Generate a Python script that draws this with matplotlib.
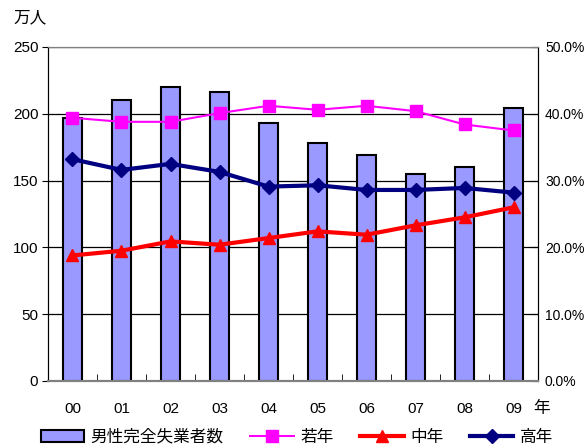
import numpy as np
import matplotlib
matplotlib.use('Agg')
import matplotlib.pyplot as plt
from matplotlib.ticker import FuncFormatter, FixedLocator

plt.rcParams['font.family'] = ['Liberation Sans', 'Noto Sans CJK JP']

# -----------------------------
# data
# -----------------------------
years = ['00', '01', '02', '03', '04', '05', '06', '07', '08', '09']
unemployed_men = [197, 210, 220, 216, 193, 178, 169, 155, 160, 204]   # 万人
young = [39.4, 38.8, 38.8, 40.1, 41.2, 40.6, 41.2, 40.4, 38.4, 37.5]  # %
middle = [18.8, 19.5, 20.9, 20.4, 21.4, 22.4, 21.9, 23.3, 24.5, 26.0]
old = [33.2, 31.6, 32.5, 31.3, 29.1, 29.3, 28.6, 28.6, 28.9, 28.2]

x = np.arange(len(years))

fig = plt.figure(figsize=(5.88, 4.45), dpi=100)
ax = fig.add_axes([48/588, 64/445, 490/588, 334/445])
ax2 = ax.twinx()

# bars
bars = ax.bar(x, unemployed_men, width=0.4, color='#9999FF',
              edgecolor='black', linewidth=1.5, zorder=3,
              label='男性完全失業者数')
ax.set_xlim(-0.5, len(years) - 0.5)
ax.set_ylim(0, 250)
ax.set_yticks([0, 50, 100, 150, 200, 250])
ax.yaxis.grid(True, color='black', linewidth=0.9, zorder=0)
ax.set_axisbelow(True)
ax.set_xticks(x)
ax.set_xticklabels(years, fontsize=11)
ax.tick_params(axis='x', length=0, pad=15)
ax.xaxis.set_minor_locator(FixedLocator(np.arange(0.5, len(years) - 1, 1.0)))
ax.tick_params(axis='x', which='minor', direction='in', length=5, color='black')
ax.tick_params(axis='y', labelsize=11, length=4, pad=3)

# lines (right axis, percent)
ax2.set_ylim(0, 50)
ax2.set_yticks([0, 10, 20, 30, 40, 50])
ax2.yaxis.set_major_formatter(FuncFormatter(lambda v, p: f'{v:.1f}%'))
ax2.tick_params(axis='y', labelsize=10, direction='in', length=5, pad=5)
l1, = ax2.plot(x, young, color='#FF00FF', linewidth=1.5, marker='s',
               markersize=9, label='若年', zorder=4)
l2, = ax2.plot(x, middle, color='#FF0000', linewidth=3, marker='^',
               markersize=9, label='中年', zorder=4)
l3, = ax2.plot(x, old, color='#000080', linewidth=3, marker='D',
               markersize=7, label='高年', zorder=4)

for a in (ax, ax2):
    a.spines['top'].set_color('#808080')
    a.spines['bottom'].set_color('#808080')
    a.spines['bottom'].set_linewidth(1.5)
    a.spines['left'].set_color('black')
    a.spines['right'].set_color('black')

fig.text(13/588, 1 - 18/445, '万人', fontsize=12, va='center', ha='left')
fig.text(533/588, 1 - 408/445, '年', fontsize=12, va='center', ha='left')

fig.legend(handles=[bars, l1, l2, l3], loc='center', ncol=4,
           bbox_to_anchor=(297/588, 1 - 437/445), frameon=False,
           fontsize=12, handlelength=2.6, columnspacing=1.6,
           handletextpad=0.4, borderaxespad=0)

fig.savefig('out.png', dpi=100)
